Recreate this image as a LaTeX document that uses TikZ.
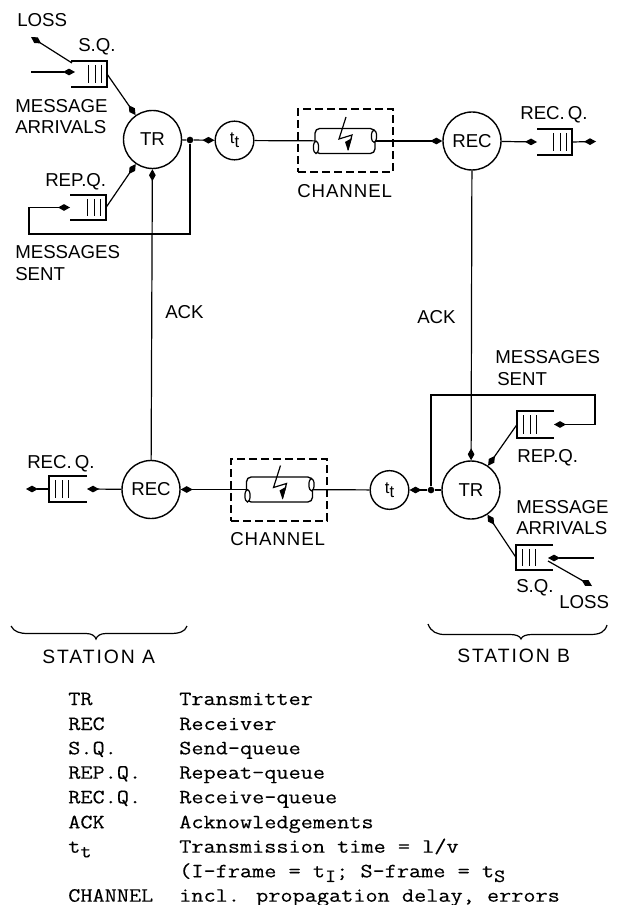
\documentclass[tikz,border=0pt]{standalone}
\usepackage{fontspec}
\usetikzlibrary{arrows.meta}
\newfontfamily\labf{Liberation Sans}
\newfontfamily\monof[FakeStretch=1.16,FakeBold=0.25]{Latin Modern Mono}
\newcommand\lsub[1]{\raisebox{-3.5pt}{\fontsize{14}{14}\selectfont #1}}
\newcommand\ttlabel{{\labf\fontsize{12.5}{12.5}\selectfont t\raisebox{-3pt}{t}}}
\newcommand\queuebox[6]{% name, left, right, top, bottom, open side (l/r)
  \node[qcell, minimum width=(#3-#2)*0.75pt, minimum height=(#5-#4)*0.75pt] (#1) at ({(#2+#3)/2},{(#4+#5)/2}) {};
  \if#6l
    \draw[qline] (#1.north west) -- (#1.north east) -- (#1.south east) -- (#1.south west);
    \foreach \b in {-18.5,-12,-5.5}{\draw[qbar] ([xshift=\b*0.75pt,yshift=-3pt]#1.north east) -- ([xshift=\b*0.75pt,yshift=3pt]#1.south east);}
  \else
    \draw[qline] (#1.north east) -- (#1.north west) -- (#1.south west) -- (#1.south east);
    \foreach \b in {6.5,13,19.5}{\draw[qbar] ([xshift=\b*0.75pt,yshift=-3pt]#1.north west) -- ([xshift=\b*0.75pt,yshift=3pt]#1.south west);}
  \fi
}
\newcommand\tubeat[5]{% name, cx, cy, half width, half height
  \node[tubebody, minimum width=2*#4*0.75pt, minimum height=2*#5*0.75pt] (#1) at (#2,#3) {};
  \begin{scope}[shift={(#2,#3)}]
    \draw[tubeend] (-#4+1,6.3) ellipse [x radius=2.6, y radius=6.2];
    \draw[tubeend] (#4-1,-4.8) ellipse [x radius=2.6, y radius=6.2];
    \draw[bolt] (1,-24) -- (-6,-2) -- (7,-6) -- (3,9);
    \fill (0,1) -- (7,-3) -- (3,10) -- cycle;
  \end{scope}
}
\tikzset{
  line/.style={line width=0.9pt},
  arr/.style={line, -{Kite[length=9pt,width=5pt,inset=4.5pt]}},
  bigc/.style={circle, draw, line width=1.05pt, minimum size=43.5pt, inner sep=0pt, font=\labf\fontsize{14}{14}\selectfont},
  tc/.style={circle, draw, line width=1.05pt, minimum size=29pt, inner sep=0pt},
  dot/.style={circle, fill, minimum size=5pt, inner sep=0pt},
  qcell/.style={inner sep=0pt, outer sep=0pt},
  qline/.style={line width=0.9pt},
  qbar/.style={line width=0.7pt},
  tubebody/.style={draw, fill=white, rounded corners=3.5pt, line width=1pt, inner sep=0pt, outer sep=0pt},
  tubeend/.style={draw, fill=white, line width=0.9pt},
  bolt/.style={line width=0.9pt},
  dbox/.style={draw, line width=0.9pt, dash pattern=on 6pt off 3pt, inner sep=0pt},
  lab/.style={anchor=base west, inner sep=0pt, font=\labf\fontsize{14}{14}\selectfont},
  wide/.style={lab, font=\labf\fontsize{14}{14}\selectfont\addfontfeature{LetterSpace=5}},
  wider/.style={lab, font=\labf\fontsize{14.5}{14.5}\selectfont\addfontfeature{LetterSpace=10}},
  leg/.style={anchor=base west, inner sep=0pt, font=\monof\fontsize{15.25}{15.25}\selectfont},
  brace/.style={line width=0.9pt},
}
\begin{document}
\begin{tikzpicture}[x=0.75pt,y=-0.75pt]
\useasboundingbox (0,0) rectangle (622,905);

% ---------- upper half
\node[bigc] (trA) at (152.5,139.5) {TR};
\node[tc] (ttA) at (234.5,140.5) {\ttlabel};
\node[dot] (jA) at (190,140) {};
\node[dbox, minimum width=95*0.75pt, minimum height=63*0.75pt] (chA) at (345.5,140.5) {};
\node[bigc] (recA) at (472,141) {REC};
\queuebox{sqA}{71}{107}{61}{87}{l}
\queuebox{repA}{70}{106}{195}{220}{l}
\queuebox{rqA}{537}{572}{129}{155}{l}
\tubeat{tubeA}{345}{141}{30}{12.5}
\draw[line] (ttA) -- (tubeA);
\draw[arr] (tubeA) -- (recA);
\draw[arr] (sqA.east) -- (trA);
\draw[arr] (repA.east) -- (trA);
\draw[line] (trA) -- (jA);
\draw[arr] (jA) -- (ttA);
\coordinate (arrA) at (31,72);
\coordinate (arrAe) at (75,72);
\coordinate (lossAs) at (72,63);
\coordinate (lossAe) at (31,37);
\draw[arr] (arrA) -- (arrAe);
\draw[arr] (lossAs) -- (lossAe);
\coordinate (fbA1) at (29,234);
\draw[arr] (jA) |- (fbA1) |- (repA.west);
\draw[arr] (recA) -- (rqA.west);
\coordinate (outA) at (596,141.5);
\draw[arr] (rqA.east) -- (outA);

\node[lab] (lLossA) at (17,27) {LOSS};
\node[lab] (lSqA) at (78,52) {S.Q.};
\node[lab] (lMaA) at (15,113) {MESSAGE};
\node[lab] (lArA) at (15,134) {ARRIVALS};
\node[lab] (lRepA) at (45,187) {REP.Q.};
\node[lab] (lMsA) at (15,258) {MESSAGES};
\node[lab] (lSeA) at (15,281) {SENT};
\node[wide] (lChA) at (297,198) {CHANNEL};
\node[lab] (lRqA) at (520,120) {REC.\,Q.};
\node[lab] (lAckA) at (165,318) {ACK};

% ---------- lower half
\node[bigc] (trB) at (471,490) {TR};
\node[tc] (ttB) at (389.5,490) {\ttlabel};
\node[dot] (jB) at (431,490) {};
\node[dbox, minimum width=96*0.75pt, minimum height=62*0.75pt] (chB) at (279,490) {};
\node[bigc] (recB) at (151,489.5) {REC};
\queuebox{rqB}{49}{87}{476}{502}{r}
\queuebox{repB}{517}{554}{411}{438}{r}
\queuebox{sqB}{516}{553}{545}{570}{r}
\tubeat{tubeB}{279.5}{489.5}{33}{12.5}
\draw[line] (ttB) -- (tubeB);
\draw[arr] (tubeB) -- (recB);
\draw[arr] (repB.west) -- (trB);
\draw[arr] (sqB.west) -- (trB);
\draw[line] (trB) -- (jB);
\draw[arr] (jB) -- (ttB);
\coordinate (arrB) at (594,558);
\coordinate (arrBe) at (548,558);
\coordinate (lossBs) at (548,561);
\coordinate (lossBe) at (592,586);
\draw[arr] (arrB) -- (arrBe);
\draw[arr] (lossBs) -- (lossBe);
\coordinate (fbB1) at (595,395);
\draw[arr] (jB) |- (fbB1) |- (repB.east);
\draw[arr] (recB) -- (rqB.east);
\coordinate (outB) at (26,489);
\draw[arr] (rqB.west) -- (outB);

\draw[arr] (recB) -- (trA);
\draw[arr] (recA) -- (trB);

\node[lab] (lRqB) at (27,468) {REC.\,Q.};
\node[wide] (lChB) at (230,545) {CHANNEL};
\node[lab] (lAckB) at (417,323) {ACK};
\node[lab] (lMsB) at (495,363) {MESSAGES};
\node[lab] (lSeB) at (497,385) {SENT};
\node[lab] (lRepB) at (517,462) {REP.Q.};
\node[lab] (lMaB) at (516,513) {MESSAGE};
\node[lab] (lArB) at (516,534) {ARRIVALS};
\node[lab] (lSqB) at (516,592) {S.Q.};
\node[lab] (lLossB) at (559,608) {LOSS};

% ---------- braces
\draw[brace] (11,626) .. controls (14,632) and (20,633.5) .. (28,633.5) -- (86,633.5)
  .. controls (92,633.5) and (95,636) .. (96,639) .. controls (97,636) and (100,633.5) .. (106,633.5)
  -- (170,633.5) .. controls (179,633.5) and (185,632) .. (187,626);
\draw[brace] (428,624) .. controls (431,632) and (437,634.5) .. (445,634.5) -- (510,634.5)
  .. controls (516,634.5) and (520,636) .. (521,639) .. controls (522,636) and (526,634.5) .. (532,634.5)
  -- (590,634.5) .. controls (600,634.5) and (605,632) .. (607,625);
\node[wider] (lStA) at (42,663) {STATION A};
\node[wider] (lStB) at (457,662) {STATION B};

% ---------- legend
\node[leg] (k1) at (68,705) {TR};        \node[leg] (v1) at (179,705) {Transmitter};
\node[leg] (k2) at (68,730) {REC};       \node[leg] (v2) at (179,730) {Receiver};
\node[leg] (k3) at (68,754.3) {S.Q.};    \node[leg] (v3) at (179,754.3) {Send-queue};
\node[leg] (k4) at (68,778.7) {REP.Q.};  \node[leg] (v4) at (179,778.7) {Repeat-queue};
\node[leg] (k5) at (68,803.3) {REC.Q.};  \node[leg] (v5) at (179,803.3) {Receive-queue};
\node[leg] (k6) at (68,828.3) {ACK};     \node[leg] (v6) at (179,828.3) {Acknowledgements};
\node[leg] (k7) at (68,852.7) {t\lsub{t}}; \node[leg] (v7) at (179,852.7) {Transmission time = l/v};
\node[leg] (v8) at (179,877.3) {(I-frame = t\lsub{I}; S-frame = t\lsub{S}};
\node[leg] (k9) at (68,901.7) {CHANNEL}; \node[leg] (v9) at (179,901.7) {incl. propagation delay, errors};
\end{tikzpicture}
\end{document}
